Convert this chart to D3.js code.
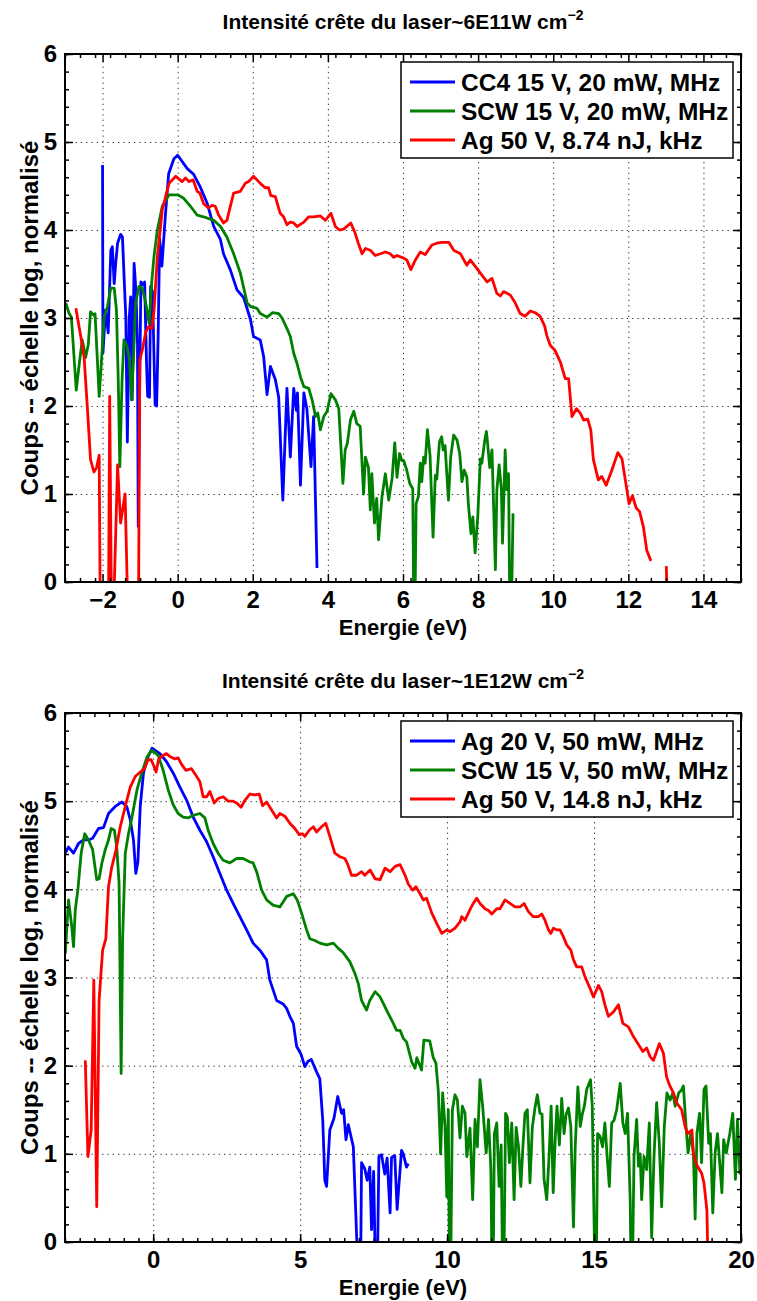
<!DOCTYPE html>
<html lang="fr">
<meta charset="UTF-8">
<title>Spectres d'énergie</title>
<style>
body {margin:0; background:#fff;}
svg text {font-family:"Liberation Sans", Arial, Helvetica, sans-serif; font-weight:bold; fill:#000;}
.grid line {stroke:#333; stroke-width:1; stroke-dasharray:1.3,4;}
.grid path {display:none;}
.ticks path {display:none;}
.ticks line {stroke:#000; stroke-width:1.5;}
</style>
<script src="https://cdnjs.cloudflare.com/ajax/libs/d3/7.8.5/d3.min.js"></script>
<body>
<div id="chart"></div>
<script>

// ---- data read off the figure : [energie (eV), coups log normalise]
// values < 0 fall outside the axes (log of ~0 counts), null = no point

// panel 1 : ~6E11 W/cm2
var cc4Top = [[-2.0,4.74],[-1.99,2.6],[-1.92,3.09],[-1.85,2.83],[-1.78,3.77],[-1.74,3.81],[-1.69,3.39],[-1.65,3.62],[-1.6,3.85],[-1.52,3.95],[-1.47,3.92],[-1.42,3.4],[-1.38,3.0],[-1.34,1.59],[-1.29,3.0],[-1.25,3.24],[-1.21,2.07],[-1.16,3.62],[-1.11,3.3],[-1.07,2.71],[-1.05,0.63],[-0.98,3.41],[-0.92,3.38],[-0.88,3.41],[-0.83,2.5],[-0.8,2.11],[-0.75,2.1],[-0.72,3.36],[-0.67,3.3],[-0.6,2.01],[-0.56,2.0],[-0.52,2.79],[-0.48,3.9],[-0.42,3.59],[-0.33,4.15],[-0.24,4.64],[-0.1,4.81],[0,4.85],[0.25,4.70],[0.43,4.63],[0.6,4.49],[0.78,4.31],[0.96,4.04],[1.14,3.89],[1.22,3.73],[1.4,3.55],[1.58,3.32],[1.76,3.23],[1.94,2.98],[2.02,2.79],[2.2,2.75],[2.29,2.56],[2.38,2.13],[2.47,2.45],[2.6,2.3],[2.69,2.1],[2.8,0.93],[2.91,2.2],[3.0,1.42],[3.09,2.2],[3.16,1.95],[3.19,2.15],[3.27,1.1],[3.36,2.15],[3.44,1.97],[3.55,1.31],[3.62,1.88],[3.71,0.16]];

var scwTop = [[-2.98,3.17],[-2.89,3.05],[-2.83,3.01],[-2.76,2.56],[-2.7,2.18],[-2.62,2.48],[-2.54,2.75],[-2.45,2.55],[-2.38,2.7],[-2.32,3.07],[-2.23,3.03],[-2.2,3.05],[-2.09,2.11],[-2.03,2.5],[-1.96,3.01],[-1.87,3.13],[-1.78,3.34],[-1.69,3.34],[-1.63,3.09],[-1.58,2.26],[-1.54,1.31],[-1.48,2.3],[-1.43,2.75],[-1.34,2.67],[-1.28,2.5],[-1.23,2.07],[-1.18,2.5],[-1.12,3.17],[-1.03,3.36],[-0.94,3.34],[-0.85,3.17],[-0.76,2.94],[-0.69,3.41],[-0.63,3.7],[-0.54,4.0],[-0.41,4.27],[-0.23,4.4],[0,4.4],[0.16,4.36],[0.34,4.27],[0.52,4.17],[0.69,4.15],[0.96,4.11],[1.14,4.04],[1.31,3.92],[1.49,3.73],[1.67,3.51],[1.85,3.17],[1.94,3.13],[2.11,3.11],[2.2,3.05],[2.38,3.01],[2.53,3.06],[2.69,3.05],[2.78,3.0],[2.91,2.88],[3.0,2.79],[3.09,2.6],[3.18,2.48],[3.27,2.33],[3.36,2.22],[3.49,2.2],[3.58,2.07],[3.67,1.88],[3.73,1.92],[3.8,1.73],[3.89,1.88],[3.98,1.94],[4.08,2.14],[4.2,2.07],[4.29,1.97],[4.4,1.12],[4.46,1.5],[4.52,1.58],[4.6,1.84],[4.69,1.94],[4.77,1.8],[4.86,1.77],[4.95,1.0],[5.0,1.42],[5.08,1.3],[5.13,0.82],[5.17,1.23],[5.24,0.67],[5.3,0.95],[5.35,0.48],[5.44,0.97],[5.53,1.23],[5.62,0.93],[5.71,1.18],[5.78,1.58],[5.84,1.19],[5.91,1.46],[5.97,1.38],[6.02,1.38],[6.1,1.27],[6.18,1.12],[6.26,1.06],[6.3,-1],[6.35,0.89],[6.41,0.97],[6.46,1.35],[6.5,1.14],[6.55,1.42],[6.59,1.35],[6.65,1.73],[6.72,1.44],[6.8,0.51],[6.86,1.21],[6.9,1.17],[6.97,1.59],[7.03,1.65],[7.07,1.5],[7.12,1.55],[7.21,0.93],[7.27,1.42],[7.35,1.67],[7.44,1.61],[7.51,1.46],[7.57,1.14],[7.63,1.27],[7.7,1.19],[7.74,0.89],[7.81,0.55],[7.86,0.74],[7.92,0.33],[7.99,0.74],[8.06,1.4],[8.1,1.35],[8.17,1.59],[8.22,1.71],[8.25,1.59],[8.31,1.3],[8.37,1.5],[8.46,0.14],[8.5,1.05],[8.56,1.33],[8.62,1.05],[8.65,0.44],[8.72,1.5],[8.76,1.05],[8.81,1.23],[8.86,-1],[8.93,0.78]];

var agTop = [[-2.71,3.11],[-2.58,2.79],[-2.49,2.55],[-2.4,1.95],[-2.32,1.39],[-2.23,1.25],[-2.16,1.3],[-2.09,1.44],[-2.05,-1],[-1.85,-1],[-1.81,2.11],[-1.75,-1],[-1.6,1.33],[-1.52,0.67],[-1.4,1.0],[-1.29,-1],[-1.05,-1],[-1.01,2.52],[-0.94,2.64],[-0.85,2.84],[-0.78,2.9],[-0.69,2.88],[-0.63,3.08],[-0.54,3.7],[-0.41,4.23],[-0.23,4.53],[-0.05,4.61],[0.12,4.55],[0.21,4.59],[0.3,4.55],[0.41,4.57],[0.52,4.44],[0.59,4.42],[0.69,4.3],[0.82,4.25],[0.91,4.28],[1.0,4.27],[1.09,4.17],[1.22,4.08],[1.31,4.11],[1.49,4.42],[1.67,4.44],[1.8,4.53],[1.89,4.55],[2.02,4.61],[2.2,4.53],[2.33,4.48],[2.42,4.48],[2.48,4.39],[2.6,4.38],[2.73,4.19],[2.82,4.15],[2.91,4.06],[3.0,4.09],[3.09,4.08],[3.18,4.04],[3.36,4.09],[3.49,4.15],[3.62,4.15],[3.8,4.16],[3.93,4.11],[4.08,4.19],[4.2,4.04],[4.31,4.0],[4.42,4.01],[4.61,4.08],[4.72,3.97],[4.81,3.85],[4.91,3.73],[5.0,3.79],[5.13,3.77],[5.26,3.71],[5.4,3.73],[5.53,3.75],[5.66,3.73],[5.75,3.69],[5.84,3.71],[6.02,3.68],[6.1,3.66],[6.21,3.55],[6.33,3.66],[6.46,3.75],[6.59,3.72],[6.77,3.83],[6.9,3.85],[7.03,3.86],[7.13,3.86],[7.22,3.86],[7.35,3.77],[7.53,3.73],[7.62,3.66],[7.7,3.6],[7.79,3.66],[7.92,3.59],[8.06,3.51],[8.24,3.41],[8.37,3.45],[8.5,3.28],[8.59,3.25],[8.68,3.3],[8.86,3.26],[8.99,3.17],[9.12,3.05],[9.25,3.02],[9.39,3.08],[9.52,3.06],[9.65,3.02],[9.77,2.91],[9.83,2.8],[9.92,2.69],[10.05,2.63],[10.19,2.5],[10.32,2.31],[10.41,2.31],[10.5,1.88],[10.62,1.97],[10.72,1.92],[10.81,1.84],[10.92,1.85],[11.0,1.73],[11.07,1.39],[11.2,1.16],[11.29,1.2],[11.41,1.1],[11.56,1.27],[11.72,1.47],[11.83,1.4],[11.92,1.16],[12.02,0.89],[12.11,0.98],[12.21,0.84],[12.3,0.8],[12.4,0.63],[12.49,0.36],[12.6,0.24],[12.8,null],[13.01,0.18],[13.1,-1]];

// panel 2 : ~1E12 W/cm2
var ag20Bot = [[-2.99,4.41],[-2.88,4.48],[-2.71,4.41],[-2.54,4.52],[-2.37,4.56],[-2.2,4.56],[-2.06,4.58],[-1.86,4.69],[-1.69,4.7],[-1.52,4.86],[-1.29,4.94],[-1.07,4.99],[-0.9,4.94],[-0.78,4.79],[-0.67,4.56],[-0.59,4.18],[-0.52,4.31],[-0.44,4.94],[-0.33,5.32],[-0.22,5.47],[-0.04,5.6],[0.23,5.54],[0.45,5.45],[0.68,5.32],[0.91,5.16],[1.14,5.01],[1.36,4.82],[1.59,4.67],[1.82,4.54],[2.04,4.37],[2.27,4.18],[2.5,3.99],[2.72,3.84],[2.95,3.69],[3.18,3.54],[3.4,3.39],[3.63,3.31],[3.86,3.2],[3.97,2.97],[4.2,2.74],[4.42,2.7],[4.54,2.65],[4.65,2.56],[4.77,2.48],[4.88,2.22],[5.03,2.13],[5.16,1.99],[5.27,2.05],[5.38,2.07],[5.56,1.93],[5.67,1.85],[5.77,1.38],[5.84,0.7],[5.9,0.63],[6.01,1.27],[6.15,1.4],[6.28,1.65],[6.41,1.46],[6.48,1.5],[6.56,1.16],[6.64,1.33],[6.81,1.08],[7.04,-1],[7.09,0.9],[7.2,0.83],[7.28,0.7],[7.37,0.85],[7.43,0.14],[7.5,0.8],[7.6,-1],[7.68,0.97],[7.77,0.99],[7.88,0.77],[7.96,0.95],[8.06,0.33],[8.11,0.96],[8.22,0.98],[8.3,0.37],[8.45,1.04],[8.51,1.0],[8.62,0.85],[8.68,0.89]];

var scw50Bot = [[-2.99,3.27],[-2.88,3.88],[-2.77,3.58],[-2.71,3.35],[-2.65,3.77],[-2.56,4.0],[-2.45,4.41],[-2.33,4.63],[-2.2,4.56],[-2.06,4.45],[-1.92,4.11],[-1.84,4.12],[-1.75,4.29],[-1.63,4.45],[-1.52,4.56],[-1.43,4.69],[-1.32,4.67],[-1.24,4.48],[-1.16,4.07],[-1.09,1.91],[-1.04,3.43],[-0.95,4.41],[-0.84,4.63],[-0.72,4.82],[-0.55,5.13],[-0.38,5.33],[-0.21,5.5],[-0.04,5.58],[0.17,5.52],[0.34,5.35],[0.51,5.13],[0.68,4.96],[0.85,4.86],[1.02,4.82],[1.19,4.81],[1.36,4.84],[1.59,4.86],[1.76,4.81],[1.87,4.67],[2.04,4.52],[2.21,4.41],[2.38,4.33],[2.61,4.3],[2.84,4.35],[3.06,4.35],[3.29,4.31],[3.4,4.3],[3.52,4.2],[3.69,3.99],[3.86,3.88],[4.08,3.82],[4.31,3.8],[4.54,3.92],[4.77,3.95],[4.9,3.88],[5.05,3.73],[5.22,3.54],[5.33,3.44],[5.5,3.42],[5.67,3.39],[5.9,3.37],[6.13,3.39],[6.3,3.33],[6.47,3.28],[6.69,3.18],[6.86,3.05],[6.98,2.93],[7.09,2.74],[7.26,2.63],[7.37,2.74],[7.55,2.84],[7.72,2.78],[8.0,2.59],[8.17,2.48],[8.28,2.4],[8.4,2.4],[8.51,2.31],[8.62,2.27],[8.8,2.04],[8.91,1.97],[8.97,2.09],[9.13,1.95],[9.21,2.29],[9.41,2.28],[9.53,2.09],[9.62,2.03],[9.7,1.72],[9.78,1.0],[9.85,1.69],[9.93,1.31],[9.99,0.51],[10.04,1.5],[10.1,-1],[10.18,1.5],[10.27,1.67],[10.35,1.61],[10.44,1.18],[10.52,1.54],[10.61,1.46],[10.67,0.97],[10.78,1.29],[10.87,0.48],[10.95,1.39],[11.03,1.08],[11.12,1.84],[11.21,1.54],[11.33,1.01],[11.41,1.39],[11.49,0.82],[11.55,-1],[11.61,1.23],[11.69,1.35],[11.77,0.63],[11.84,1.1],[11.91,-1],[11.99,1.46],[12.05,1.42],[12.12,0.9],[12.2,1.35],[12.28,0.48],[12.35,1.3],[12.43,1.08],[12.51,0.63],[12.58,1.08],[12.65,1.46],[12.73,1.5],[12.82,0.67],[12.9,1.3],[12.99,1.52],[13.07,1.67],[13.16,1.46],[13.23,1.45],[13.3,0.71],[13.39,0.48],[13.47,0.97],[13.54,1.54],[13.61,0.56],[13.68,1.18],[13.74,1.54],[13.82,1.1],[13.9,1.63],[13.98,1.23],[14.05,1.45],[14.13,1.52],[14.21,1.31],[14.3,0.17],[14.36,1.08],[14.45,1.76],[14.53,1.31],[14.6,1.45],[14.67,1.54],[14.75,1.73],[14.88,1.84],[14.94,1.54],[15.06,-1],[15.12,1.23],[15.2,1.2],[15.29,1.08],[15.37,1.35],[15.45,0.95],[15.52,0.63],[15.6,1.35],[15.68,1.38],[15.77,1.5],[15.89,1.8],[15.98,1.35],[16.06,1.23],[16.14,1.46],[16.23,0.48],[16.28,-1],[16.36,0.97],[16.45,1.39],[16.51,0.86],[16.57,1.0],[16.62,0.48],[16.7,0.97],[16.79,0.82],[16.88,1.35],[16.96,0.05],[17.04,0.97],[17.13,1.58],[17.22,1.12],[17.3,0.4],[17.39,1.31],[17.48,1.69],[17.59,1.61],[17.68,1.69],[17.76,1.54],[17.88,1.69],[17.97,1.72],[18.04,1.77],[18.13,1.31],[18.2,1.01],[18.29,1.23],[18.38,1.01],[18.44,0.26],[18.5,1.23],[18.59,1.46],[18.66,0.9],[18.74,1.73],[18.81,1.77],[18.9,1.12],[18.96,1.23],[19.04,0.33],[19.12,1.01],[19.2,1.23],[19.25,1.01],[19.35,0.56],[19.41,1.16],[19.5,1.01],[19.62,1.23],[19.72,1.46],[19.81,0.71],[19.88,1.39],[19.96,0.78],[20.0,1.01]];

var ag50Bot = [[-2.31,2.06],[-2.22,0.97],[-2.11,1.27],[-2.02,2.97],[-1.92,0.4],[-1.84,2.74],[-1.72,3.31],[-1.61,3.44],[-1.52,4.03],[-1.41,4.25],[-1.27,4.44],[-1.12,4.71],[-0.95,4.94],[-0.78,5.16],[-0.61,5.28],[-0.44,5.33],[-0.29,5.37],[-0.18,5.47],[-0.07,5.47],[0.01,5.41],[0.1,5.33],[0.18,5.47],[0.29,5.51],[0.45,5.54],[0.6,5.5],[0.74,5.48],[0.85,5.49],[0.96,5.42],[1.11,5.35],[1.3,5.37],[1.48,5.28],[1.59,5.22],[1.7,5.05],[1.82,5.05],[1.93,5.11],[2.08,4.98],[2.21,5.03],[2.38,5.05],[2.55,5.0],[2.72,5.0],[2.84,4.98],[2.99,4.93],[3.12,5.01],[3.29,5.08],[3.46,5.07],[3.61,5.08],[3.72,4.95],[3.86,4.99],[4.03,4.9],[4.2,4.81],[4.31,4.86],[4.48,4.83],[4.65,4.75],[4.82,4.69],[4.97,4.62],[5.08,4.63],[5.16,4.6],[5.31,4.67],[5.45,4.71],[5.56,4.65],[5.73,4.71],[5.87,4.75],[6.01,4.6],[6.18,4.41],[6.35,4.37],[6.52,4.35],[6.6,4.3],[6.75,4.16],[6.92,4.16],[7.09,4.2],[7.2,4.16],[7.38,4.22],[7.55,4.12],[7.72,4.11],[7.89,4.24],[8.06,4.2],[8.23,4.26],[8.4,4.28],[8.57,4.16],[8.68,4.06],[8.83,3.99],[8.94,4.03],[9.08,3.95],[9.19,3.88],[9.3,3.9],[9.48,3.73],[9.65,3.61],[9.82,3.5],[9.99,3.54],[10.1,3.52],[10.27,3.56],[10.44,3.63],[10.5,3.69],[10.61,3.65],[10.78,3.77],[10.89,3.84],[11.01,3.9],[11.12,3.84],[11.29,3.78],[11.41,3.76],[11.52,3.72],[11.69,3.78],[11.8,3.78],[11.97,3.88],[12.14,3.84],[12.31,3.8],[12.48,3.8],[12.62,3.84],[12.76,3.75],[12.93,3.69],[13.1,3.69],[13.22,3.72],[13.33,3.65],[13.45,3.54],[13.53,3.5],[13.62,3.56],[13.73,3.54],[13.84,3.54],[13.96,3.46],[14.07,3.37],[14.21,3.31],[14.3,3.2],[14.41,3.12],[14.58,3.12],[14.69,3.01],[14.86,2.88],[14.98,2.78],[15.15,2.91],[15.26,2.84],[15.37,2.69],[15.49,2.56],[15.66,2.61],[15.83,2.69],[15.98,2.48],[16.17,2.44],[16.34,2.33],[16.51,2.24],[16.66,2.16],[16.79,2.2],[16.91,2.1],[17.02,2.06],[17.13,2.16],[17.22,2.25],[17.36,2.14],[17.47,1.87],[17.58,1.77],[17.7,1.69],[17.81,1.58],[17.98,1.5],[18.1,1.31],[18.18,1.23],[18.33,1.27],[18.38,1.0],[18.5,0.87],[18.66,0.78],[18.74,0.67],[18.84,0.36],[18.92,-1]];

// labels
var legendTop = ["CC4 15 V, 20 mW, MHz", "SCW 15 V, 20 mW, MHz", "Ag 50 V, 8.74 nJ, kHz"];
var legendBot = ["Ag 20 V, 50 mW, MHz", "SCW 15 V, 50 mW, MHz", "Ag 50 V, 14.8 nJ, kHz"];
var colors = ["#0000ff", "#008000", "#ff0000"];
var xTicksTop = [-2, 0, 2, 4, 6, 8, 10, 12, 14];
var xTicksBot = [0, 5, 10, 15, 20];
var yTicks = [0, 1, 2, 3, 4, 5, 6];

var W = 757, H = 1301;
var svg = d3.select("#chart").append("svg")
    .attr("width", W)
    .attr("height", H);

function panel(opt) {
  var width = 676, height = opt.height;
  var x = d3.scaleLinear().domain(opt.xDomain).range([0, width]);
  var y = d3.scaleLinear().domain([0, 6]).range([height, 0]);

  var g = svg.append("g")
      .attr("transform", "translate(" + opt.left + "," + opt.top + ")");

  g.append("clipPath").attr("id", opt.id + "clip")
    .append("rect").attr("width", width).attr("height", height);

  // dotted grid at the major ticks
  g.append("g").attr("class", "grid")
      .attr("transform", "translate(0," + height + ")")
      .call(d3.axisBottom(x).tickValues(opt.xTicks.filter(function(d){ return d > opt.xDomain[0] && d < opt.xDomain[1]; }))
            .tickSize(-height).tickFormat(""));
  g.append("g").attr("class", "grid")
      .call(d3.axisLeft(y).tickValues([1, 2, 3, 4, 5]).tickSize(-width).tickFormat(""));

  // the three spectra
  var line = d3.line()
      .defined(function(d) { return d[1] !== null; })
      .x(function(d) { return x(d[0]); })
      .y(function(d) { return y(d[1]); });

  var lines = g.append("g").attr("clip-path", "url(#" + opt.id + "clip)");
  opt.series.forEach(function(s, i) {
    lines.append("path")
        .datum(s)
        .attr("fill", "none")
        .attr("stroke", colors[i])
        .attr("stroke-width", 2.8)
        .attr("stroke-linejoin", "round")
        .attr("d", line);
  });

  // ticks on all four sides, pointing in
  var minorX = d3.range(opt.xDomain[0], opt.xDomain[1] + 1e-9, opt.xMinor);
  var minorY = d3.range(0, 6.0001, 0.2);
  function ticks(axis, tr) {
    g.append("g").attr("class", "ticks").attr("transform", tr).call(axis);
  }
  ticks(d3.axisBottom(x).tickValues(minorX).tickSize(-4).tickFormat(""), "translate(0," + height + ")");
  ticks(d3.axisTop(x).tickValues(minorX).tickSize(-4).tickFormat(""), null);
  ticks(d3.axisLeft(y).tickValues(minorY).tickSize(-4).tickFormat(""), null);
  ticks(d3.axisRight(y).tickValues(minorY).tickSize(-4).tickFormat(""), "translate(" + width + ",0)");
  ticks(d3.axisTop(x).tickValues(opt.xTicks).tickSize(-8).tickFormat(""), null);
  ticks(d3.axisRight(y).tickValues(yTicks).tickSize(-8).tickFormat(""), "translate(" + width + ",0)");

  var xAxis = g.append("g").attr("class", "ticks")
      .attr("transform", "translate(0," + height + ")")
      .call(d3.axisBottom(x).tickValues(opt.xTicks).tickSize(-8).tickPadding(9).tickFormat(d3.format("d")));
  var yAxis = g.append("g").attr("class", "ticks")
      .call(d3.axisLeft(y).tickValues(yTicks).tickSize(-8).tickPadding(8).tickFormat(d3.format("d")));
  xAxis.selectAll("text").style("font-size", "24px").attr("fill", "#000");
  yAxis.selectAll("text").style("font-size", "24px").attr("fill", "#000");

  g.append("rect")
      .attr("width", width).attr("height", height)
      .attr("fill", "none").attr("stroke", "#000").attr("stroke-width", 2);

  // legend
  var lg = g.append("g").attr("transform", "translate(336,8)");
  lg.append("rect")
      .attr("width", 332).attr("height", 96)
      .attr("fill", "#fff").attr("stroke", "#000").attr("stroke-width", 1.5);
  opt.legend.forEach(function(t, i) {
    var yy = 20 + i * 29;
    lg.append("line").attr("x1", 9).attr("x2", 54).attr("y1", yy).attr("y2", yy)
        .attr("stroke", colors[i]).attr("stroke-width", 2.8);
    lg.append("text").attr("x", 60).attr("y", yy).attr("dy", "0.36em")
        .style("font-size", "24.5px").text(t);
  });

  // title with exponent
  var title = svg.append("text")
      .attr("x", opt.left + width / 2).attr("y", opt.top - 25)
      .attr("text-anchor", "middle").style("font-size", "21px");
  title.append("tspan").text(opt.title);
  title.append("tspan").attr("dy", -9).style("font-size", "14px").text("\u22122");

  svg.append("text")
      .attr("x", opt.left + width / 2).attr("y", opt.top + height + 53)
      .attr("text-anchor", "middle").style("font-size", "22px")
      .text("Energie (eV)");

  svg.append("text")
      .attr("transform", "translate(" + (opt.left - 27) + "," + (opt.top + height / 2) + ") rotate(-90)")
      .attr("text-anchor", "middle").style("font-size", "24px")
      .text("Coups -- \u00e9chelle log, normalis\u00e9");
}

panel({id: "p1", left: 65, top: 54, height: 528, xDomain: [-3, 15], xTicks: xTicksTop, xMinor: 0.4,
       series: [cc4Top, scwTop, agTop], legend: legendTop,
       title: "Intensit\u00e9 cr\u00eate du laser~6E11W cm"});
panel({id: "p2", left: 65, top: 713, height: 529, xDomain: [-3, 20], xTicks: xTicksBot, xMinor: 0.5,
       series: [ag20Bot, scw50Bot, ag50Bot], legend: legendBot,
       title: "Intensit\u00e9 cr\u00eate du laser~1E12W cm"});

</script>
</body>
</html>
